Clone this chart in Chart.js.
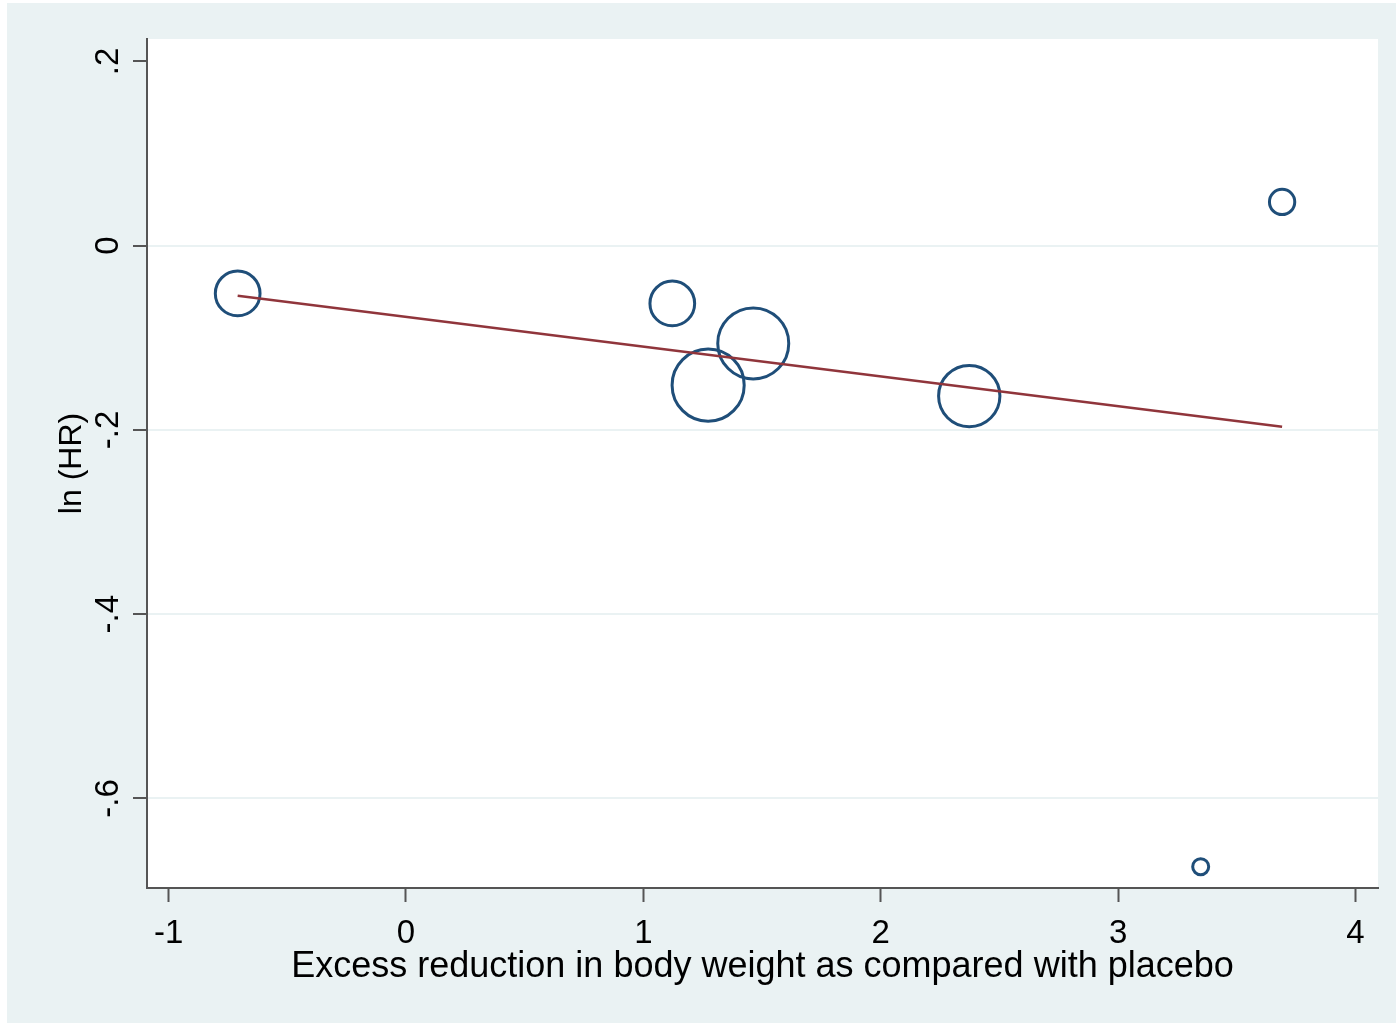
<!DOCTYPE html>
<html><head><meta charset="utf-8">
<script src="https://cdn.jsdelivr.net/npm/chart.js@4.4.1/dist/chart.umd.min.js"></script>
<style>html,body{margin:0;padding:0;background:#fff}canvas{display:block}</style>
</head><body>
<canvas id="c" width="1396" height="1023"></canvas>
<script>
// Data
const excessWeightReduction = [-0.709, 1.122, 1.463, 1.273, 2.373, 3.691, 3.348];
const lnHR = [-0.0519, -0.0627, -0.1061, -0.1514, -0.1633, 0.0475, -0.6741];
const studyWeight = [5.0, 5.0, 12.6, 13.0, 9.4, 1.6, 0.64];
const fitX = [-0.709, 3.691];
const fitY = [-0.0545, -0.1966];
const xTickValues = [-1, 0, 1, 2, 3, 4];
const xTickLabels = ['-1', '0', '1', '2', '3', '4'];
const yTickValues = [-0.6, -0.4, -0.2, 0, 0.2];
const yTickLabels = ['-.6', '-.4', '-.2', '0', '.2'];
const xTitle = 'Excess reduction in body weight as compared with placebo';
const yTitle = 'ln (HR)';

const FONT = "'Liberation Sans', Arial, sans-serif";
const NAVY = '#1f4e79', MAROON = '#90353b', AXIS = '#555555', GRID = '#eaf2f3';

const bgPlugin = {
  id: 'bg',
  beforeDraw(chart) {
    const {ctx, width, height, chartArea: a} = chart;
    ctx.save();
    ctx.fillStyle = '#ffffff';
    ctx.fillRect(0, 0, width, height);
    ctx.fillStyle = '#eaf2f3';
    ctx.fillRect(7, 3, width - 7, height - 3);
    ctx.fillStyle = '#ffffff';
    ctx.fillRect(a.left, a.top, a.right - a.left, a.bottom - a.top);
    ctx.restore();
  }
};

new Chart(document.getElementById('c'), {
  type: 'bubble',
  data: {
    datasets: [
      {
        type: 'line',
        data: fitX.map((x, i) => ({x, y: fitY[i]})),
        borderColor: MAROON,
        borderWidth: 2.5,
        pointRadius: 0,
        fill: false,
        tension: 0
      },
      {
        type: 'bubble',
        data: excessWeightReduction.map((x, i) => ({x, y: lnHR[i], r: Math.sqrt(studyWeight[i]) * 10})),
        borderColor: NAVY,
        backgroundColor: 'rgba(0,0,0,0)',
        borderWidth: 3,
        clip: false
      }
    ]
  },
  options: {
    responsive: false,
    animation: false,
    events: [],
    layout: {autoPadding: false, padding: {top: 39, right: 18, left: 0, bottom: 0}},
    plugins: {legend: {display: false}, tooltip: {enabled: false}},
    scales: {
      x: {
        type: 'linear',
        min: -1.091,
        max: 4.095,
        afterBuildTicks: s => { s.ticks = xTickValues.map(v => ({value: v})); },
        afterFit: s => { s.height = 135; },
        grid: {drawOnChartArea: false, drawTicks: true, tickLength: 14, tickColor: AXIS, tickWidth: 2},
        border: {display: true, color: AXIS, width: 2},
        ticks: {
          color: '#000',
          font: {family: FONT, size: 33},
          padding: 12,
          maxRotation: 0,
          callback: (v, i) => xTickLabels[xTickValues.indexOf(v)]
        },
        title: {
          display: true,
          text: xTitle,
          color: '#000',
          font: {family: FONT, size: 36},
          padding: {top: 0, bottom: 34}
        }
      },
      y: {
        type: 'linear',
        min: -0.6972,
        max: 0.2243,
        afterBuildTicks: s => { s.ticks = yTickValues.map(v => ({value: v})); },
        afterFit: s => { s.width = 147; },
        grid: {
          drawOnChartArea: true,
          drawTicks: true,
          tickLength: 14,
          tickColor: AXIS,
          tickWidth: 2,
          lineWidth: 2,
          color: c => (c.tick && Math.abs(c.tick.value - 0.2) < 1e-9) ? 'rgba(0,0,0,0)' : GRID
        },
        border: {display: true, color: AXIS, width: 2},
        ticks: {
          color: '#000',
          font: {family: FONT, size: 33},
          padding: 5,
          minRotation: 90,
          maxRotation: 90,
          crossAlign: 'center',
          callback: v => yTickLabels[yTickValues.findIndex(t => Math.abs(t - v) < 1e-9)]
        },
        title: {
          display: true,
          text: yTitle,
          color: '#000',
          font: {family: FONT, size: 32},
          padding: {top: 53, bottom: 0}
        }
      }
    }
  },
  plugins: [bgPlugin]
});
</script>
</body></html>
